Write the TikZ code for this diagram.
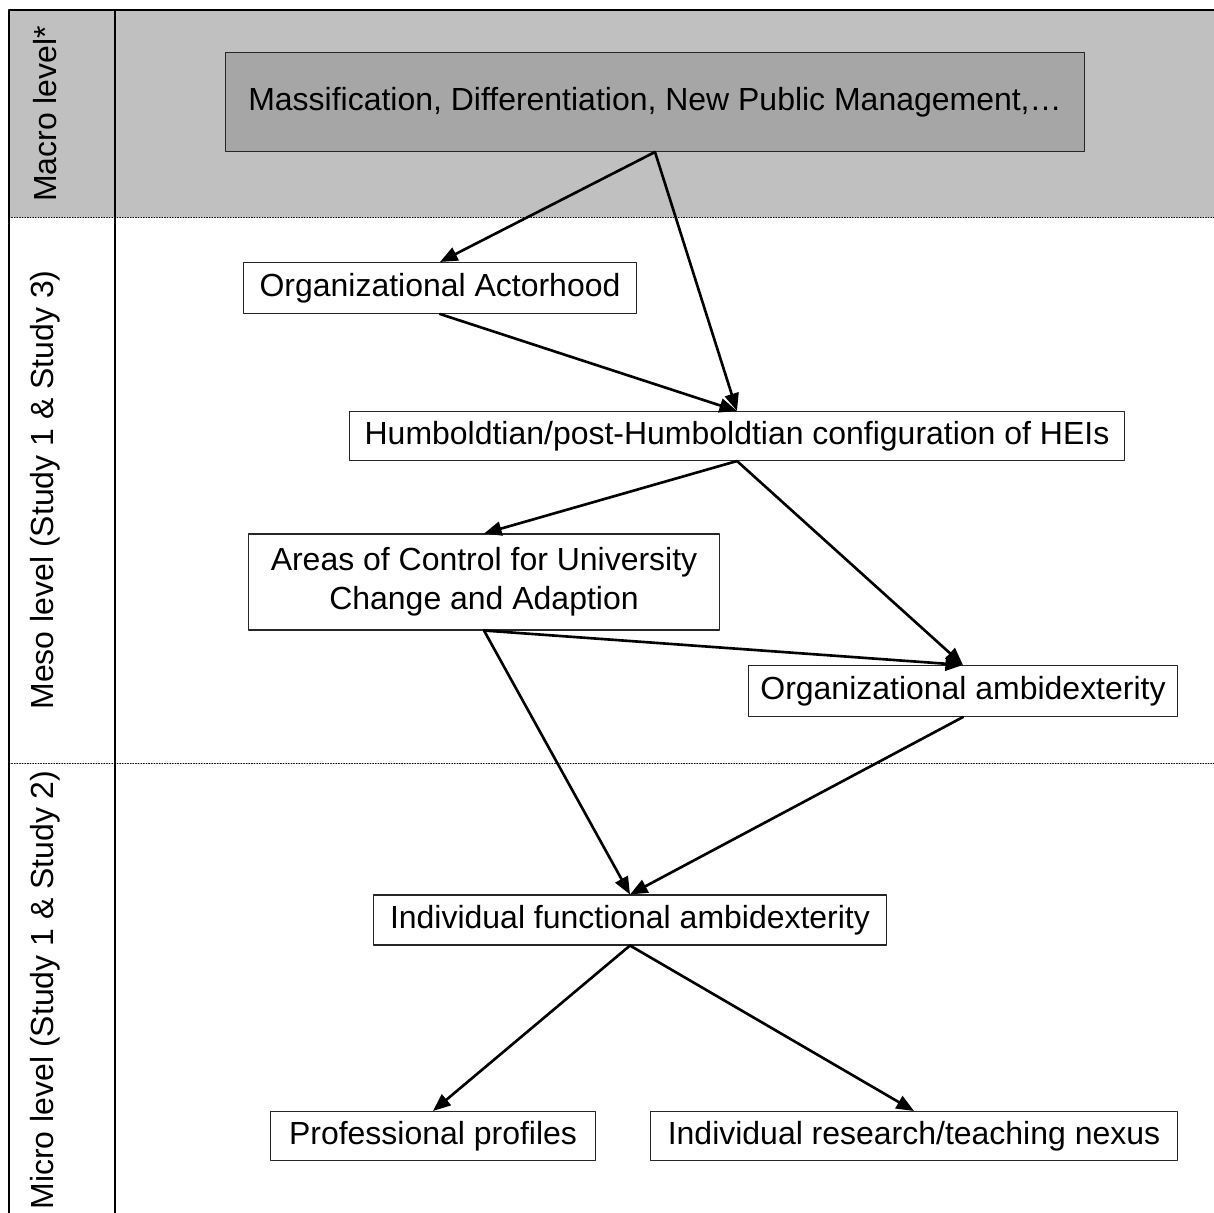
\documentclass[tikz,border=0pt]{standalone}
\usepackage{fontspec}
\setmainfont{Liberation Sans}
\usetikzlibrary{arrows.meta}
\definecolor{bandgray}{RGB}{192,192,192}
\definecolor{boxgray}{RGB}{166,166,166}
\begin{document}
\begin{tikzpicture}[x=0.02cm,y=-0.02cm,line cap=round,line join=round,
  box/.style={draw=black!85,line width=0.6pt,fill=white,inner sep=0pt,align=center,font=\fontsize{18.2}{22}\selectfont},
  lvl/.style={rotate=90,font=\fontsize{18.2}{22}\selectfont},
  link/.style={line width=1.5pt,-{Triangle[length=10pt,width=8pt]}}]
  \useasboundingbox (0,0) rectangle (1214,1213);
  \fill[bandgray] (9,10) rectangle (1214,217);
  \draw[line width=0.5pt,densely dotted] (9,217) -- (1214,217);
  \draw[line width=0.5pt,densely dotted] (9,763) -- (1214,763);
  \draw[line width=1.6pt,line cap=butt] (9,1213) -- (9,10) -- (1214,10);
  \draw[line width=1.6pt,line cap=butt] (115,10) -- (115,1213);
  \node[lvl] (macro) at (45,114) {Macro level*};
  \node[lvl] (meso) at (45,490) {Meso level (Study 1 \& Study 3)};
  \node[lvl] (micro) at (45,990) {Micro level (Study 1 \& Study 2)};
  \node[box,fill=boxgray,minimum width=17.2cm,minimum height=1.98cm] (trends) at (655,102) {Massification, Differentiation, New Public Management,…};
  \node[box,minimum width=7.88cm,minimum height=1.02cm] (actor) at (440,288) {Organizational Actorhood};
  \node[box,minimum width=15.5cm,minimum height=0.98cm] (humb) at (737,436) {Humboldtian/post-Humboldtian configuration of HEIs};
  \node[box,minimum width=9.42cm,minimum height=1.92cm] (areas) at (484,582) {Areas of Control for University\\Change and Adaption};
  \node[box,minimum width=8.6cm,minimum height=1.02cm] (orgamb) at (963,691) {Organizational ambidexterity};
  \node[box,minimum width=10.26cm,minimum height=1cm] (indamb) at (630,920) {Individual functional ambidexterity};
  \node[box,minimum width=6.5cm,minimum height=0.98cm] (profiles) at (433,1136) {Professional profiles};
  \node[box,minimum width=10.56cm,minimum height=0.98cm] (nexus) at (914,1136) {Individual research/teaching nexus};
  \draw[link] (trends.south) -- (actor.north);
  \draw[link] (trends.south) -- (humb.north);
  \draw[link] (actor.south) -- (humb.north);
  \draw[link] (humb.south) -- (areas.north);
  \draw[link] (humb.south) -- (orgamb.north);
  \draw[link] (areas.south) -- (orgamb.north);
  \draw[link] (areas.south) -- (indamb.north);
  \draw[link] (orgamb.south) -- (indamb.north);
  \draw[link] (indamb.south) -- (profiles.north);
  \draw[link] (indamb.south) -- (nexus.north);
\end{tikzpicture}
\end{document}
